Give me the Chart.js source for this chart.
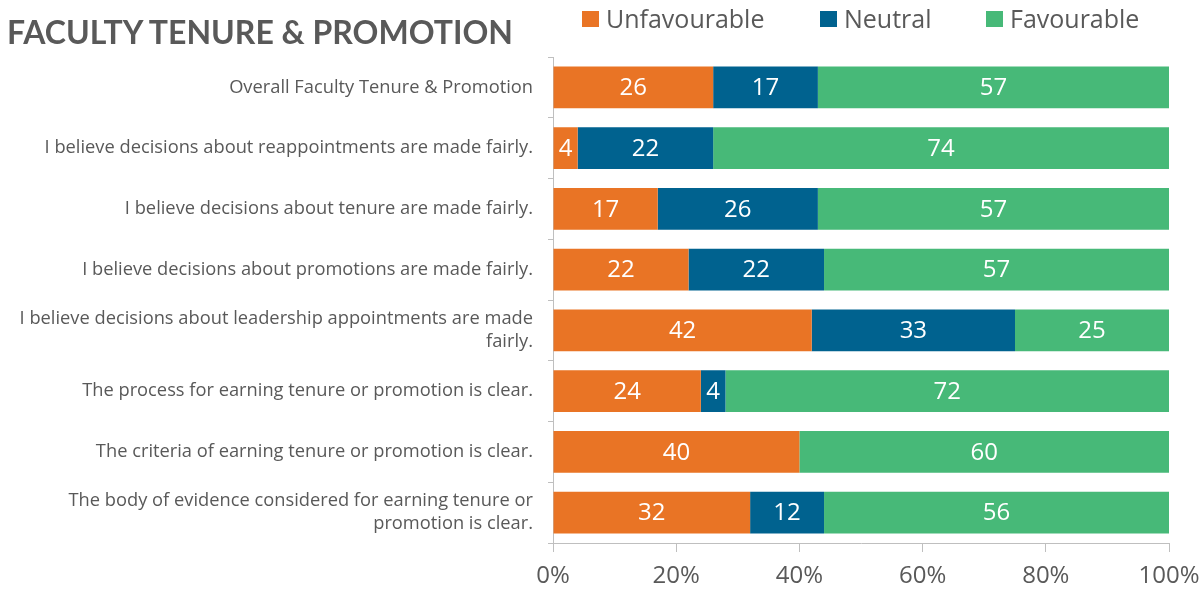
<!DOCTYPE html>
<html>
<head>
<meta charset="utf-8">
<script src="https://cdn.jsdelivr.net/npm/chart.js@4"></script>
<style>
  html,body{margin:0;padding:0;background:#fff;}
  #wrap{position:relative;width:1201px;height:594px;overflow:hidden;}
  #title{position:absolute;left:7px;top:12px;font-family:Lato,"Open Sans",sans-serif;font-weight:bold;font-size:32px;color:#595959;white-space:nowrap;}
  #legend{position:absolute;top:0;left:0;font-family:"Open Sans",Lato,sans-serif;font-size:25px;color:#595959;}
  .item{position:absolute;white-space:nowrap;}
  .box{position:absolute;width:17px;height:16px;}
  .txt{position:absolute;line-height:36px;top:0;}
  canvas{position:absolute;left:0;top:0;}
</style>
</head>
<body>
<div id="wrap">
  <canvas id="c" width="1201" height="594"></canvas>
  <div id="title">FACULTY TENURE &amp; PROMOTION</div>
  <div id="legend"></div>
</div>
<script>
const categories = [
  "Overall Faculty Tenure & Promotion",
  "I believe decisions about reappointments are made fairly.",
  "I believe decisions about tenure are made fairly.",
  "I believe decisions about promotions are made fairly.",
  ["I believe decisions about leadership appointments are made", "fairly."],
  "The process for earning tenure or promotion is clear.",
  "The criteria of earning tenure or promotion is clear.",
  ["The body of evidence considered for earning tenure or", "promotion is clear."]
];
const seriesNames = ["Unfavourable", "Neutral", "Favourable"];
const unfavourable = [26, 4, 17, 22, 42, 24, 40, 32];
const neutral      = [17, 22, 26, 22, 33, 4, 0, 12];
const favourable   = [57, 74, 57, 57, 25, 72, 60, 56];
const xTicks = [0, 20, 40, 60, 80, 100];

const colors = ["#E97425", "#00628F", "#47B978"];
const gray = "#595959";
const font = "'Open Sans', Lato, sans-serif";

// HTML legend
const legendPos = [582, 820, 986];
const legendEl = document.getElementById('legend');
seriesNames.forEach((n, i) => {
  const b = document.createElement('div');
  b.className = 'box';
  b.style.left = legendPos[i] + 'px';
  b.style.top = '11px';
  b.style.background = colors[i];
  legendEl.appendChild(b);
  const t = document.createElement('div');
  t.className = 'txt';
  t.style.left = (legendPos[i] + 24) + 'px';
  t.textContent = n;
  legendEl.appendChild(t);
});

const barLabels = {
  id: 'barLabels',
  afterDatasetsDraw(chart) {
    const ctx = chart.ctx;
    ctx.save();
    ctx.font = "24px " + font;
    ctx.fillStyle = "#ffffff";
    ctx.textAlign = "center";
    ctx.textBaseline = "middle";
    chart.data.datasets.forEach((ds, di) => {
      const meta = chart.getDatasetMeta(di);
      meta.data.forEach((el, i) => {
        const v = ds.data[i];
        if (!v) return;
        const props = el.getProps(['x', 'base', 'y'], true);
        const right = Math.min(props.x, chart.chartArea.right);
        ctx.fillText(String(v), (props.base + right) / 2, props.y + 1);
      });
    });
    ctx.restore();
  }
};

new Chart(document.getElementById('c'), {
  type: 'bar',
  data: {
    labels: categories,
    datasets: [
      { label: seriesNames[0], data: unfavourable, backgroundColor: colors[0] },
      { label: seriesNames[1], data: neutral, backgroundColor: colors[1] },
      { label: seriesNames[2], data: favourable, backgroundColor: colors[2] }
    ]
  },
  options: {
    indexAxis: 'y',
    responsive: false,
    animation: false,
    devicePixelRatio: 1,
    layout: { padding: { top: 57, right: 32, left: 0, bottom: 0 } },
    datasets: { bar: { barPercentage: 0.69, categoryPercentage: 1.0, borderWidth: 0 } },
    plugins: { legend: { display: false }, title: { display: false }, tooltip: { enabled: false } },
    scales: {
      x: {
        stacked: true,
        min: 0, max: 100,
        afterBuildTicks(scale) { scale.ticks = xTicks.map(v => ({ value: v })); },
        afterFit(scale) { scale.height = 51; scale.paddingRight = 0; },
        border: { display: true, color: "#BFBFBF", width: 1 },
        grid: { display: true, drawOnChartArea: false, drawTicks: true, tickLength: 9, color: "#BFBFBF" },
        ticks: {
          padding: 10,
          color: gray,
          font: { family: font, size: 24, lineHeight: 1.2 },
          maxRotation: 0,
          callback: v => v + '%'
        }
      },
      y: {
        stacked: true,
        afterFit(scale) { scale.width = 553; },
        border: { display: true, color: "#BFBFBF", width: 1 },
        grid: { display: true, drawOnChartArea: false, drawTicks: true, tickLength: 5, color: "#BFBFBF" },
        ticks: {
          padding: 15,
          color: gray,
          autoSkip: false,
          font: { family: font, size: 18.3, lineHeight: 1.27 }
        }
      }
    }
  },
  plugins: [barLabels]
});
</script>
</body>
</html>
